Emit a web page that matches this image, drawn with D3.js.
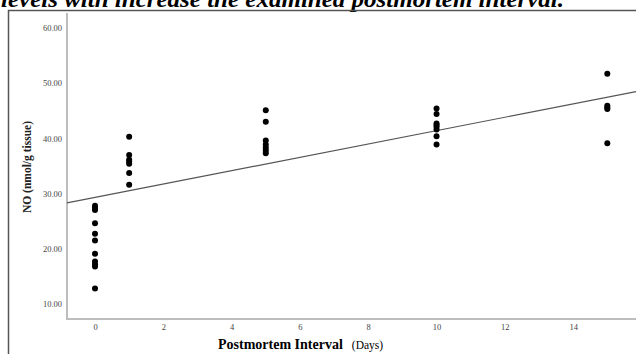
<!DOCTYPE html>
<html>
<head>
<meta charset="utf-8">
<script src="https://cdn.jsdelivr.net/npm/d3@7"></script>
<style>
  body { margin: 0; background: #fff; }
  svg { display: block; }
</style>
</head>
<body>
<div id="container"></div>
<script>
// chart data
let days = [0, 1, 5, 10, 15];
let noDay0  = [27.8, 27.4, 27.0, 24.6, 22.7, 21.5, 19.1, 17.7, 17.2, 16.8, 12.8];
let noDay1  = [40.3, 37.0, 36.1, 35.8, 35.4, 33.7, 31.6];
let noDay5  = [45.1, 43.0, 39.6, 38.9, 38.3, 37.8, 37.3];
let noDay10 = [45.4, 44.4, 42.7, 42.4, 42.1, 41.6, 40.4, 38.9];
let noDay15 = [51.7, 45.9, 45.6, 45.3, 39.1];
let xTicks = [0, 2, 4, 6, 8, 10, 12, 14];
let yTicks = [10, 20, 30, 40, 50, 60];
let fitLine = [29.3, 1.21]; // intercept, slope

let titleText = "levels with increase the examined postmortem interval.";
let xTitle = "Postmortem Interval";
let xUnit = "(Days)";
let yTitle = "NO (nmol/g tissue)";
//

let width = 636;
let height = 354;
let plotLeft = 67, plotRight = 636, plotTop = 13, plotBottom = 319;

let points = [];
[noDay0, noDay1, noDay5, noDay10, noDay15].forEach(function(vals, i) {
    vals.forEach(function(v) { points.push({ day: days[i], no: v }); });
});

let x = d3.scaleLinear().domain([-0.82, 15.84]).range([plotLeft, plotRight]);
let y = d3.scaleLinear().domain([7.28, 62.7]).range([plotBottom, plotTop]);

let svg = d3.select('#container').append('svg')
    .attr('width', width)
    .attr('height', height);

// title line of the page above, cut by the crop as in the source
svg.append('text')
    .attr('x', 1)
    .attr('y', 7)
    .attr('font-family', 'Liberation Serif, serif')
    .attr('font-size', 23)
    .attr('font-weight', 'bold')
    .attr('font-style', 'italic')
    .attr('textLength', 563)
    .attr('lengthAdjust', 'spacingAndGlyphs')
    .text(titleText);

// outer frame
svg.append('line')
    .attr('x1', 8).attr('x2', width).attr('y1', 10.5).attr('y2', 10.5)
    .attr('stroke', '#555').attr('stroke-width', 1.5);
svg.append('line')
    .attr('x1', 8.5).attr('x2', 8.5).attr('y1', 10).attr('y2', height)
    .attr('stroke', '#555').attr('stroke-width', 1.5);

// axes
let xAxis = d3.axisBottom(x).tickValues(xTicks).tickSize(0).tickPadding(5)
    .tickFormat(d3.format('d'));
let yAxis = d3.axisLeft(y).tickValues(yTicks).tickSize(0).tickPadding(5)
    .tickFormat(d3.format('.2f'));

let gx = svg.append('g').attr('transform', 'translate(0,' + plotBottom + ')').call(xAxis);
let gy = svg.append('g').attr('transform', 'translate(' + plotLeft + ',0)').call(yAxis);

[gx, gy].forEach(function(g) {
    g.select('.domain').attr('stroke', '#bdbdbd').attr('stroke-width', 2);
    g.selectAll('text')
        .attr('font-family', 'Liberation Serif, serif')
        .attr('font-size', 8.5)
        .attr('fill', '#444');
});
gx.select('.domain').attr('d', 'M' + plotLeft + ',0H' + plotRight);
gy.select('.domain').attr('d', 'M0,' + plotTop + 'V' + (plotBottom + 1));

// fit line
let fx = x.domain();
svg.append('line')
    .attr('x1', x(fx[0])).attr('y1', y(fitLine[0] + fitLine[1] * fx[0]))
    .attr('x2', x(fx[1])).attr('y2', y(fitLine[0] + fitLine[1] * fx[1]))
    .attr('stroke', '#555').attr('stroke-width', 1.2);

// points
svg.append('g').selectAll('circle')
    .data(points)
    .enter()
    .append('circle')
    .attr('cx', function(d) { return x(d.day); })
    .attr('cy', function(d) { return y(d.no); })
    .attr('r', 3)
    .attr('fill', '#000');

// axis titles
let xt = svg.append('text')
    .attr('y', 349)
    .attr('font-family', 'Liberation Serif, serif');
xt.append('tspan')
    .attr('x', 218)
    .attr('font-size', 14)
    .attr('font-weight', 'bold')
    .text(xTitle);
xt.append('tspan')
    .attr('dx', 9)
    .attr('font-size', 11.5)
    .text(xUnit);

svg.append('text')
    .attr('transform', 'translate(31,167) rotate(-90)')
    .attr('text-anchor', 'middle')
    .attr('font-family', 'Liberation Serif, serif')
    .attr('font-size', 11.5)
    .attr('font-weight', 'bold')
    .attr('fill', '#222')
    .text(yTitle);
</script>
</body>
</html>
